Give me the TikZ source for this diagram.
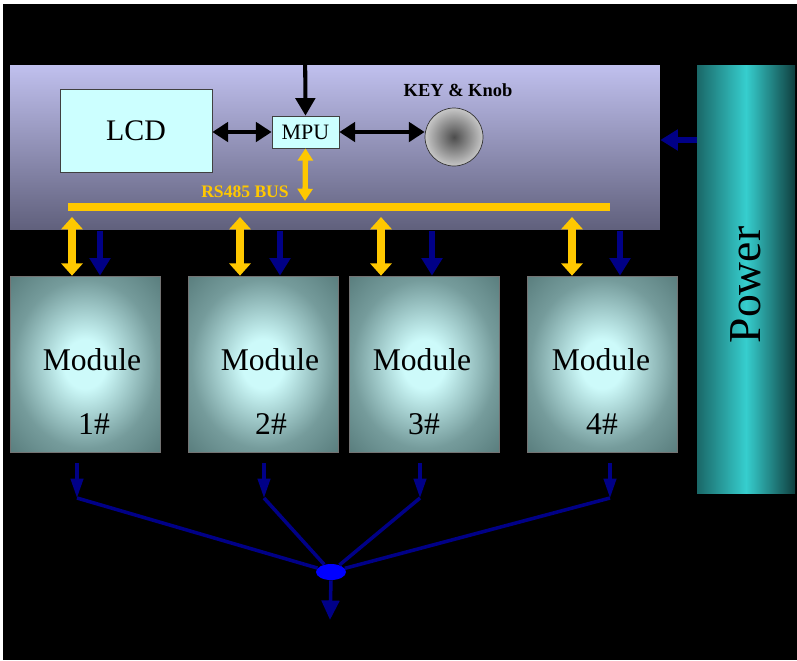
\documentclass[tikz,border=0pt]{standalone}
\usepackage{fontspec}
\setmainfont{Liberation Serif}
\usetikzlibrary{arrows.meta,shapes.geometric}

\definecolor{navyarr}{RGB}{0,0,135}
\definecolor{busyel}{RGB}{255,200,0}
\definecolor{lcdfill}{RGB}{204,255,255}
\definecolor{ctrltop}{RGB}{192,192,238}
\definecolor{ctrlbot}{RGB}{96,96,124}
\definecolor{modin}{RGB}{205,250,250}
\definecolor{modout}{RGB}{88,124,124}
\definecolor{pwrdark}{RGB}{26,104,104}
\definecolor{pwrlight}{RGB}{54,206,206}

\pgfdeclareradialshading{modshade}{\pgfpoint{0bp}{0bp}}{color(0bp)=(modin); color(7bp)=(modin); color(24bp)=(modout!75!modin); color(36bp)=(modout); color(50bp)=(modout)}

\tikzset{
	ctrlbox/.style={top color=ctrltop, bottom color=ctrlbot, draw=none},
	pwrbox/.style={left color=pwrdark, right color=pwrdark!60!black, middle color=pwrlight},
	modbox/.style={shading=modshade, draw=black!55, minimum width=3cm, minimum height=3.52cm},
	cyanbox/.style={fill=lcdfill, draw=black!75},
	modtxt/.style={font=\fontsize{18}{20}\selectfont},
	blacktxt/.style={text=black},
	blackarr/.style={line width=2.3pt, {Triangle[length=9pt,width=11pt]}-{Triangle[length=9pt,width=11pt]}},
	yelarr/.style={busyel, line width=4.5pt, {Triangle[length=7pt,width=12pt]}-{Triangle[length=7pt,width=12pt]}},
	pwrarr/.style={navyarr, line width=3.4pt, -{Triangle[length=10pt,width=11.5pt]}},
	outarr/.style={navyarr, line width=1.8pt, -{Triangle[length=11pt,width=7pt]}},
	outline/.style={navyarr, line width=2pt}
}

\begin{document}
\begin{tikzpicture}[x=0.02cm,y=-0.02cm]
	\useasboundingbox (0,0) rectangle (797,660);
	\fill[white] (0,0) rectangle (797,660);
	\fill[black] (3,4) rectangle (797,660);

	% control unit and power
	\node[ctrlbox, minimum width=13cm, minimum height=3.3cm] (ctrl) at (335,147.5) {};
	\node[blacktxt, font=\fontsize{14}{16}\selectfont] (ctrltxt) at (88,48) {Control Unit};
	\node[pwrbox, minimum width=1.96cm, minimum height=8.58cm] (pwr) at (746,279.5) {};
	\node[rotate=90, font=\fontsize{26}{28}\selectfont] (pwrtxt) at (746,285) {Power};
	\node[blacktxt, font=\fontsize{15}{17}\selectfont] (pwrin) at (740,630) {Power In};

	\node[cyanbox, minimum width=3.04cm, minimum height=1.66cm, font=\fontsize{17}{19}\selectfont] (lcd) at (136,130.5) {LCD};
	\node[cyanbox, minimum width=1.34cm, minimum height=0.64cm, inner sep=0pt, font=\fontsize{12.5}{14}\selectfont] (mpu) at (305.5,132) {MPU};
	\node[circle, draw=black!80, inner color=black!70, outer color=black!22, minimum size=1.16cm] (knob) at (454,137) {};
	\node[font=\bfseries\fontsize{10.5}{12}\selectfont] (keytxt) at (458,90) {KEY \& Knob};
	\node[blacktxt, font=\fontsize{11.5}{13}\selectfont] (rsin) at (305,20) {RS232};
	\coordinate (rstop) at (305,34);

	\draw[blackarr] (lcd.east |- mpu.west) -- (mpu.west);
	\draw[blackarr] (mpu.east) -- (mpu.east -| knob.west);
	\draw[line width=2.3pt, -{Triangle[length=10pt,width=11pt]}] (rstop) -- (mpu.north);
	\draw[pwrarr] (pwr.west |- 0,140) -- (ctrl.east |- 0,140);

	% bus
	\coordinate (busL) at (68,207);
	\coordinate (busR) at (610,207);
	\coordinate (busM) at (305,201);
	\draw[busyel, line width=4.5pt] (busL) -- (busR);
	\draw[busyel, line width=3pt, {Triangle[length=7pt,width=8.5pt]}-{Triangle[length=7pt,width=8.5pt]}] (mpu.south) -- (busM);
	\node[busyel, font=\bfseries\fontsize{10}{12}\selectfont] (bustxt) at (245,192) {RS485 BUS};

	% modules
	\node[modbox] (m1) at (85,364) {};
	\node[modbox] (m2) at (263,364) {};
	\node[modbox] (m3) at (424,364) {};
	\node[modbox] (m4) at (602,364) {};
	\node[modtxt] (t1) at (92,360) {Module};
	\node[modtxt] (t2) at (270,360) {Module};
	\node[modtxt] (t3) at (422,360) {Module};
	\node[modtxt] (t4) at (601,360) {Module};
	\node[modtxt] (n1) at (94,424) {1\#};
	\node[modtxt] (n2) at (271,424) {2\#};
	\node[modtxt] (n3) at (424,424) {3\#};
	\node[modtxt] (n4) at (602,424) {4\#};

	\coordinate (y1) at (72,217);
	\coordinate (y2) at (240,217);
	\coordinate (y3) at (381,217);
	\coordinate (y4) at (572,217);
	\draw[yelarr] (y1) -- (y1 |- m1.north);
	\draw[yelarr] (y2) -- (y2 |- m2.north);
	\draw[yelarr] (y3) -- (y3 |- m3.north);
	\draw[yelarr] (y4) -- (y4 |- m4.north);

	\coordinate (p1) at (100,231);
	\coordinate (p2) at (280,231);
	\coordinate (p3) at (432,231);
	\coordinate (p4) at (620,231);
	\draw[pwrarr] (p1) -- (p1 |- m1.north);
	\draw[pwrarr] (p2) -- (p2 |- m2.north);
	\draw[pwrarr] (p3) -- (p3 |- m3.north);
	\draw[pwrarr] (p4) -- (p4 |- m4.north);

	% outputs to combiner
	\node[ellipse, fill=blue, minimum width=0.6cm, minimum height=0.32cm, inner sep=0pt] (wdm) at (331,572) {};
	\node[blacktxt, font=\fontsize{11}{13}\selectfont] (wdmtxt) at (370,590) {WDM};
	\coordinate (o1) at (77,463);
	\coordinate (o2) at (264,463);
	\coordinate (o3) at (420,463);
	\coordinate (o4) at (610,463);
	\coordinate (e1) at (77,498);
	\coordinate (e2) at (264,498);
	\coordinate (e3) at (420,498);
	\coordinate (e4) at (610,498);
	\draw[outarr] (o1) -- (e1);
	\draw[outarr] (o2) -- (e2);
	\draw[outarr] (o3) -- (e3);
	\draw[outarr] (o4) -- (e4);
	\draw[outline] (e1) -- (wdm);
	\draw[outline] (e2) -- (wdm);
	\draw[outline] (e3) -- (wdm);
	\draw[outline] (e4) -- (wdm);

	\node[blacktxt, font=\fontsize{15}{17}\selectfont] (bbout) at (330,638) {Broad Band Output};
	\draw[outarr, line width=2pt, -{Triangle[length=11pt,width=10pt]}] (wdm.south) -- (bbout.north);
\end{tikzpicture}
\end{document}
